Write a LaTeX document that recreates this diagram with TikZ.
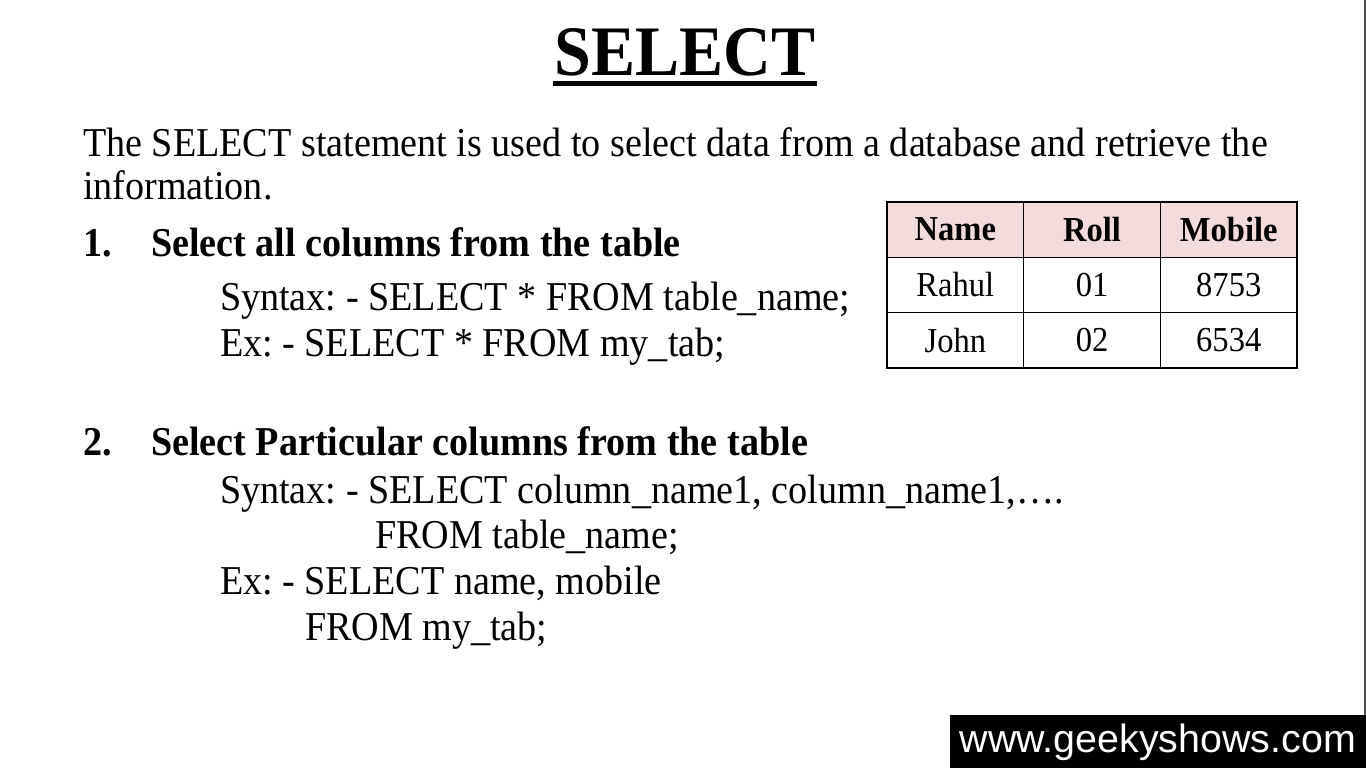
\documentclass[tikz,border=0pt]{standalone}
\usepackage{fontspec}
\setmainfont{Liberation Serif}[FakeStretch=0.93]
\newfontfamily\webfont{Liberation Sans}
\usetikzlibrary{positioning}
\definecolor{headpink}{RGB}{242,220,219}
\def\Tab{my\_tab}
\frenchspacing

\begin{document}
\begin{tikzpicture}[x=1pt,y=-1pt,% pixel grid, y going down
      every node/.style={
        inner sep=0pt,
        outer sep=0pt
      },
      line/.style={anchor=base west,font=\fontsize{41}{46}\selectfont},
      head/.style={line,font=\fontsize{41}{46}\selectfont\bfseries},
      cell/.style={
        rectangle,draw=black,line width=1.5pt,
        minimum width=136.7pt,minimum height=55.3pt,
        font=\fontsize{35}{38}\selectfont
      },
      hcell/.style={cell,fill=headpink,font=\fontsize{35}{38}\selectfont\bfseries}
    ]
    \useasboundingbox (0,0) rectangle (1366,768);
    \fill[white] (0,0) rectangle (1366,768);
    \draw[black!70,line width=2pt] (1365,0) -- (1365,715);
    % title
    \node[anchor=base,font=\fontsize{71}{80}\selectfont\bfseries](T0) at (685,75) {SELECT};
    \draw[line width=5pt] ([yshift=-9pt,xshift=-2pt]T0.base west) -- ([yshift=-9pt,xshift=2pt]T0.base east);
    % text
    \node[line](L1) at (83,156) {The SELECT statement is used to select data from a database and retrieve the};
    \node[line](L2) at (83,199) {information.};
    \node[head](N1) at (83,256) {1.};
    \node[head](H1) at (151,256) {Select all columns from the table};
    \node[line](S1) at (220,310) {Syntax: - SELECT * FROM table\_name;};
    \node[line](E1) at (220,356) {Ex: - SELECT * FROM \Tab;};
    \node[head](N2) at (83,455) {2.};
    \node[head](H2) at (151,455) {Select Particular columns from the table};
    \node[line](S2) at (220,503) {Syntax: - SELECT column\_name1, column\_name1,\ldots.};
    \node[line](S3) at (375,548) {FROM table\_name;};
    \node[line](E2) at (220,594) {Ex: - SELECT name, mobile};
    \node[line](E3) at (305,640) {FROM \Tab;};
    % table
    \node[hcell,anchor=north west](C11) at (887,202) {Name};
    \node[hcell](C12)[right=0pt of C11]{Roll};
    \node[hcell](C13)[right=0pt of C12]{Mobile};
    \node[cell](C21)[below=0pt of C11]{Rahul};
    \node[cell](C22)[right=0pt of C21]{01};
    \node[cell](C23)[right=0pt of C22]{8753};
    \node[cell](C31)[below=0pt of C21]{John};
    \node[cell](C32)[right=0pt of C31]{02};
    \node[cell](C33)[right=0pt of C32]{6534};
    % watermark
    \node[rectangle,fill=black,anchor=north west,minimum width=416pt,minimum height=53pt](W0) at (950,715) {};
    \node[anchor=base east,text=white,font=\webfont\fontsize{39.4}{44}\selectfont](W1) at (1356,752) {www.geekyshows.com};
  \end{tikzpicture}
\end{document}
